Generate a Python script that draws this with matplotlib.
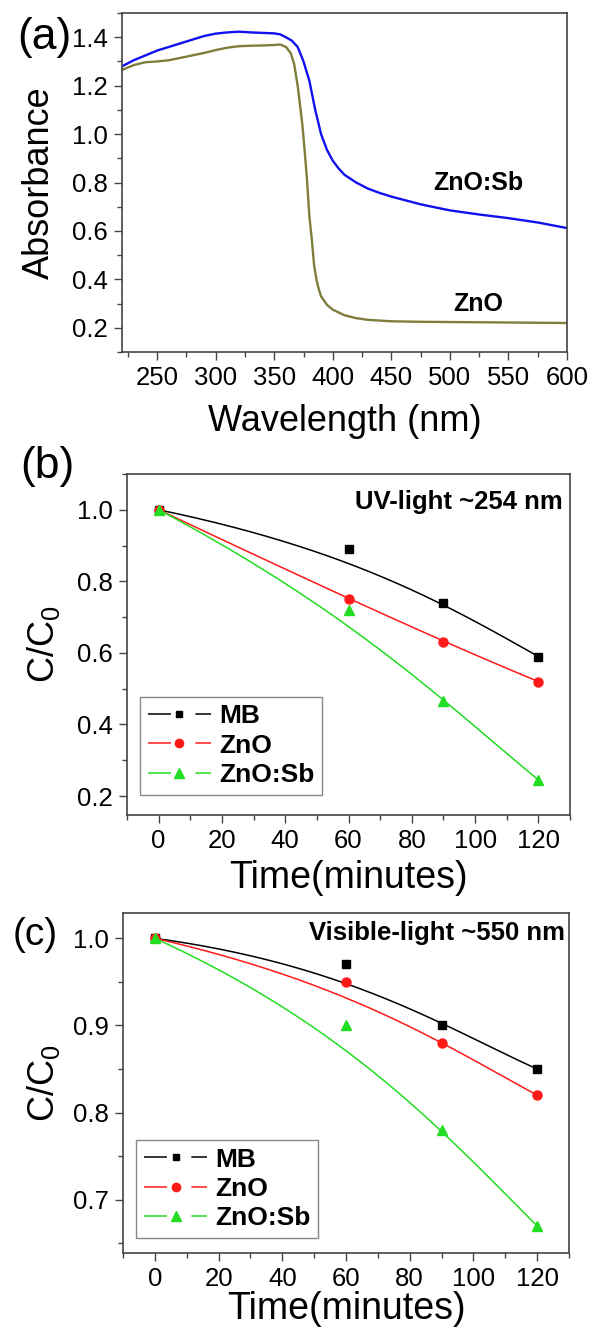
import numpy as np
import matplotlib
matplotlib.use('Agg')
import matplotlib.pyplot as plt
from matplotlib.lines import Line2D
from matplotlib.ticker import MultipleLocator
from math import comb

plt.rcParams['font.family'] = ['Liberation Sans', 'DejaVu Sans']
plt.rcParams['mathtext.default'] = 'regular'

# (a) absorbance spectra
wl_sb = [220, 230, 240, 250, 260, 270, 280, 290, 300, 310, 320, 330, 340, 350, 355,
         360, 365, 370, 375, 380, 385, 390, 395, 400, 405, 410, 420, 430, 440, 450,
         475, 500, 525, 550, 575, 600]
abs_sb = [1.28, 1.305, 1.325, 1.345, 1.36, 1.375, 1.39, 1.405, 1.415, 1.42, 1.423, 1.42,
          1.418, 1.416, 1.412, 1.40, 1.386, 1.36, 1.30, 1.22, 1.10, 1.0, 0.935, 0.89,
          0.858, 0.832, 0.80, 0.775, 0.757, 0.742, 0.71, 0.685, 0.668, 0.653, 0.635, 0.612]

wl_zno = [220, 230, 240, 250, 260, 270, 280, 290, 300, 310, 320, 330, 340, 350, 355, 360,
          364, 367, 370, 372, 374, 376, 378, 380, 382, 384, 386, 388, 390, 395, 400, 410,
          420, 430, 450, 475, 500, 550, 600]
abs_zno = [1.265, 1.285, 1.297, 1.30, 1.305, 1.315, 1.325, 1.335, 1.347, 1.357, 1.363,
           1.365, 1.366, 1.368, 1.37, 1.36, 1.335, 1.29, 1.20, 1.12, 1.04, 0.93, 0.81,
           0.66, 0.57, 0.46, 0.40, 0.36, 0.33, 0.295, 0.275, 0.252, 0.24, 0.233, 0.227,
           0.225, 0.224, 0.222, 0.22]

# (b), (c) degradation
time = [0, 60, 90, 120]
uv_mb = [1.0, 0.89, 0.74, 0.59]
uv_zno = [1.0, 0.75, 0.63, 0.52]
uv_sb = [1.0, 0.72, 0.465, 0.245]
vis_mb = [1.0, 0.97, 0.90, 0.85]
vis_zno = [1.0, 0.95, 0.88, 0.82]
vis_sb = [1.0, 0.90, 0.78, 0.67]

labels = ['MB', 'ZnO', 'ZnO:Sb']
colors = ['black', '#ff1a1a', '#22dd22']
markers = ['s', 'o', '^']
msizes = [5.5, 6.5, 7]

AX_COL = '#444444'


def bspline(x, y, n=200):
    # bezier with the data points as control points (origin style b-spline)
    x = np.asarray(x, float)
    y = np.asarray(y, float)
    k = len(x) - 1
    t = np.linspace(0, 1, n)
    bx = np.zeros(n)
    by = np.zeros(n)
    for i in range(k + 1):
        b = comb(k, i) * t**i * (1 - t)**(k - i)
        bx += b * x[i]
        by += b * y[i]
    return bx, by


def style_axes(ax):
    for s in ax.spines.values():
        s.set_color(AX_COL)
        s.set_linewidth(1.2)
    ax.tick_params(which='both', direction='out', color=AX_COL, top=False, right=False,
                   width=1.0, labelsize=18.5)
    ax.tick_params(which='major', length=6, pad=4)
    ax.tick_params(which='minor', length=3.5)


fig = plt.figure(figsize=(5.9, 13.3), dpi=100)

# ---- (a)
ax1 = fig.add_axes([0.2068, 0.7353, 0.7542, 0.2549])
ax1.plot(wl_sb, abs_sb, color='#1010f0', lw=1.7)
ax1.plot(wl_zno, abs_zno, color='#7f7d3c', lw=1.7)
ax1.set_xlim(220, 600)
ax1.set_ylim(0.1, 1.5)
ax1.xaxis.set_major_locator(MultipleLocator(50))
ax1.xaxis.set_minor_locator(MultipleLocator(25))
ax1.yaxis.set_major_locator(MultipleLocator(0.2))
ax1.yaxis.set_minor_locator(MultipleLocator(0.1))
style_axes(ax1)
ax1.set_yticks([0.2, 0.4, 0.6, 0.8, 1.0, 1.2, 1.4])
ax1.set_xlabel('Wavelength (nm)', fontsize=26, labelpad=10)
ax1.set_ylabel('Absorbance', fontsize=26)
ax1.yaxis.set_label_coords(-0.146, 0.5)
ax1.text(524, 0.80, 'ZnO:Sb', fontsize=18, fontweight='bold', ha='center', va='center')
ax1.text(524, 0.30, 'ZnO', fontsize=18, fontweight='bold', ha='center', va='center')
fig.text(0.075, 0.972, '(a)', fontsize=32, ha='center', va='center')


def deg_panel(rect, series, ylim, ymaj, ymin, note, note_xy, leg_xy, xlabelpad):
    ax = fig.add_axes(rect)
    handles = []
    for vals, lab, c, m, ms in zip(series, labels, colors, markers, msizes):
        bx, by = bspline(time, vals)
        ax.plot(bx, by, color=c, lw=1.1)
        ax.plot(time, vals, ls='none', marker=m, ms=ms, color=c)
        handles.append(Line2D([], [], color=c, lw=1.1, ls=(0, (15, 16)),
                              marker=m, ms=ms - 0.5, label=lab))
    ax.set_xlim(-10, 130)
    ax.set_ylim(*ylim)
    ax.xaxis.set_major_locator(MultipleLocator(20))
    ax.xaxis.set_minor_locator(MultipleLocator(10))
    ax.yaxis.set_major_locator(MultipleLocator(ymaj))
    ax.yaxis.set_minor_locator(MultipleLocator(ymin))
    style_axes(ax)
    ax.set_xlabel('Time(minutes)', fontsize=27, labelpad=xlabelpad)
    ax.set_ylabel(r'C/C$_\mathregular{0}$', fontsize=26)
    ax.text(note_xy[0], note_xy[1], note, transform=ax.transAxes, fontsize=18.5,
            fontweight='bold', ha='right', va='center')
    leg = ax.legend(handles=handles, loc='lower left', bbox_to_anchor=leg_xy,
                    borderaxespad=0, fancybox=False, edgecolor='#888888', framealpha=1,
                    prop={'weight': 'bold', 'size': 19}, handlelength=2.4,
                    handletextpad=0.3, labelspacing=0.2, borderpad=0.3)
    leg.get_frame().set_linewidth(1.0)
    return ax


ax2 = deg_panel([0.2153, 0.3872, 0.7508, 0.2564], [uv_mb, uv_zno, uv_sb], (0.147, 1.1),
                0.2, 0.1, 'UV-light ~254 nm', (0.984, 0.918), (0.029, 0.059), 5)
ax2.yaxis.set_label_coords(-0.146, 0.5)
fig.text(0.08, 0.649, '(b)', fontsize=32, ha='center', va='center')

ax3 = deg_panel([0.2085, 0.0579, 0.7559, 0.2556], [vis_mb, vis_zno, vis_sb], (0.639, 1.029),
                0.1, 0.05, 'Visible-light ~550 nm', (0.991, 0.941), (0.029, 0.044), 0)
ax3.yaxis.set_label_coords(-0.136, 0.5)
fig.text(0.06, 0.297, '(c)', fontsize=28, ha='center', va='center')

fig.savefig('out.png', dpi=100)
